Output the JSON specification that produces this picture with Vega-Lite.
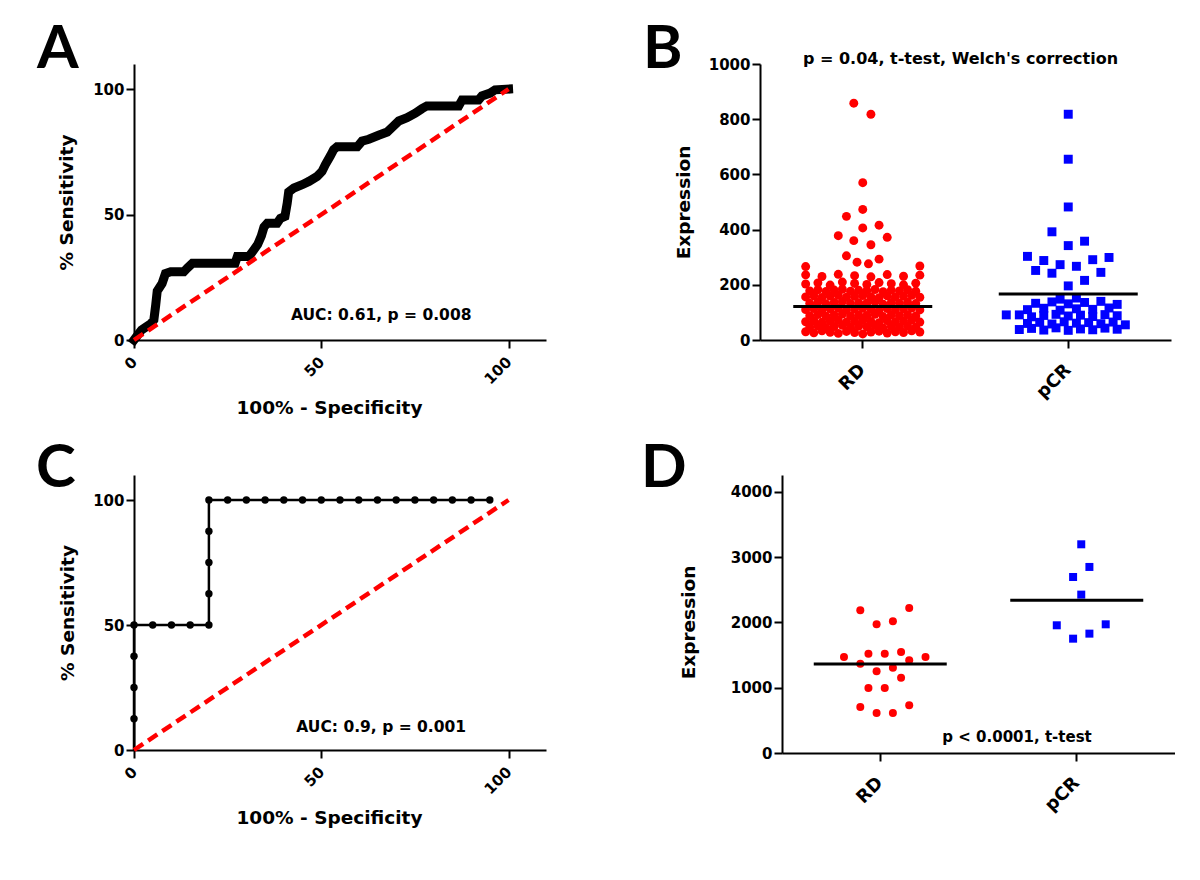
{
  "$schema": "https://vega.github.io/schema/vega-lite/v6.json",
  "background": "white",
  "autosize": {"type": "pad"},
  "padding": {"left": 36, "top": 20, "right": 0, "bottom": 0},
  "config": {
    "view": {"stroke": null},
    "font": "DejaVu Sans",
    "axis": {"domainColor": "#000", "domainWidth": 2, "tickColor": "#000", "tickWidth": 2, "tickSize": 8, "grid": false,
      "labelFont": "DejaVu Sans", "labelFontWeight": "bold", "labelFontSize": 15, "labelColor": "#000", "labelPadding": 2,
      "titleFont": "DejaVu Sans", "titleFontWeight": "bold", "titleFontSize": 18.5, "titleColor": "#000"},
    "axisX": {"labelAngle": -45, "labelAlign": "right", "labelBaseline": "middle", "labelPadding": 11, "titlePadding": 12, "labelFlush": false, "labelOverlap": false},
    "title": {"font": "Lato", "fontSize": 60, "fontWeight": "bold", "color": "#000", "anchor": "start", "frame": "group", "baseline": "alphabetic"}
  },
  "datasets": {
    "rocA": [
      {"fpr":0,"tpr":0},{"fpr":1,"tpr":2},{"fpr":2,"tpr":4},{"fpr":3,"tpr":5},{"fpr":4.5,"tpr":6.5},{"fpr":5.3,"tpr":8},{"fpr":5.8,"tpr":14},{"fpr":6.2,"tpr":19.5},{"fpr":7.5,"tpr":22.5},{"fpr":8.4,"tpr":26.5},{"fpr":9.8,"tpr":27.2},{"fpr":13.3,"tpr":27.2},{"fpr":14.2,"tpr":28.6},{"fpr":15.6,"tpr":30.6},{"fpr":27,"tpr":30.6},{"fpr":27.6,"tpr":33.3},{"fpr":30.7,"tpr":33.3},{"fpr":31.8,"tpr":35.5},{"fpr":33,"tpr":38},{"fpr":34,"tpr":41.5},{"fpr":34.7,"tpr":45},{"fpr":35.6,"tpr":46.5},{"fpr":38.2,"tpr":46.5},{"fpr":39.1,"tpr":48.5},{"fpr":40.3,"tpr":49.3},{"fpr":40.9,"tpr":54.5},{"fpr":41.3,"tpr":59},{"fpr":42.7,"tpr":60.6},{"fpr":44.9,"tpr":61.9},{"fpr":46.7,"tpr":63.2},{"fpr":48.9,"tpr":65.2},{"fpr":50.2,"tpr":67.2},{"fpr":51.1,"tpr":69.9},{"fpr":52.4,"tpr":73.3},{"fpr":53.3,"tpr":75.9},{"fpr":54.2,"tpr":77},{"fpr":59.6,"tpr":77},{"fpr":60.9,"tpr":79.3},{"fpr":62.7,"tpr":80},{"fpr":65.3,"tpr":81.6},{"fpr":67.6,"tpr":82.9},{"fpr":69.3,"tpr":85.3},{"fpr":70.7,"tpr":87.3},{"fpr":72.9,"tpr":88.6},{"fpr":75.1,"tpr":90.4},{"fpr":76.9,"tpr":92.2},{"fpr":78.2,"tpr":93.3},{"fpr":86.7,"tpr":93.3},{"fpr":87.6,"tpr":95.7},{"fpr":92,"tpr":95.7},{"fpr":92.9,"tpr":97.3},{"fpr":95.1,"tpr":98.4},{"fpr":96.4,"tpr":99.7},{"fpr":100,"tpr":100}
    ],
    "rocC": [
      {"fpr":0,"tpr":0},{"fpr":0,"tpr":12.5},{"fpr":0,"tpr":25},{"fpr":0,"tpr":37.5},{"fpr":0,"tpr":50},{"fpr":5,"tpr":50},{"fpr":10,"tpr":50},{"fpr":15,"tpr":50},{"fpr":20,"tpr":50},{"fpr":20,"tpr":62.5},{"fpr":20,"tpr":75},{"fpr":20,"tpr":87.5},{"fpr":20,"tpr":100},{"fpr":25,"tpr":100},{"fpr":30,"tpr":100},{"fpr":35,"tpr":100},{"fpr":40,"tpr":100},{"fpr":45,"tpr":100},{"fpr":50,"tpr":100},{"fpr":55,"tpr":100},{"fpr":60,"tpr":100},{"fpr":65,"tpr":100},{"fpr":70,"tpr":100},{"fpr":75,"tpr":100},{"fpr":80,"tpr":100},{"fpr":85,"tpr":100},{"fpr":90,"tpr":100},{"fpr":95,"tpr":100}
    ],
    "diag": [{"fpr":0,"tpr":0},{"fpr":100,"tpr":100}],
    "exprB": [
      {"g":"RD","v":30,"s":-7},{"g":"RD","v":26,"s":-6},{"g":"RD","v":33,"s":-5},{"g":"RD","v":28,"s":-4},{"g":"RD","v":24,"s":-3},{"g":"RD","v":31,"s":-2},{"g":"RD","v":27,"s":-1},{"g":"RD","v":22,"s":0},{"g":"RD","v":29,"s":1},{"g":"RD","v":32,"s":2},{"g":"RD","v":25,"s":3},{"g":"RD","v":30,"s":4},{"g":"RD","v":27,"s":5},{"g":"RD","v":33,"s":6},{"g":"RD","v":29,"s":7},
      {"g":"RD","v":47,"s":-6.5},{"g":"RD","v":51,"s":-5.5},{"g":"RD","v":45,"s":-4.5},{"g":"RD","v":49,"s":-3.5},{"g":"RD","v":53,"s":-2.5},{"g":"RD","v":46,"s":-1.5},{"g":"RD","v":50,"s":-0.5},{"g":"RD","v":48,"s":0.5},{"g":"RD","v":52,"s":1.5},{"g":"RD","v":44,"s":2.5},{"g":"RD","v":49,"s":3.5},{"g":"RD","v":47,"s":4.5},{"g":"RD","v":51,"s":5.5},{"g":"RD","v":46,"s":6.5},
      {"g":"RD","v":66,"s":-7},{"g":"RD","v":70,"s":-6},{"g":"RD","v":64,"s":-5},{"g":"RD","v":69,"s":-4},{"g":"RD","v":72,"s":-3},{"g":"RD","v":65,"s":-2},{"g":"RD","v":68,"s":-1},{"g":"RD","v":71,"s":0},{"g":"RD","v":67,"s":1},{"g":"RD","v":63,"s":2},{"g":"RD","v":70,"s":3},{"g":"RD","v":66,"s":4},{"g":"RD","v":69,"s":5},{"g":"RD","v":72,"s":6},{"g":"RD","v":65,"s":7},
      {"g":"RD","v":88,"s":-6.5},{"g":"RD","v":92,"s":-5.5},{"g":"RD","v":86,"s":-4.5},{"g":"RD","v":91,"s":-3.5},{"g":"RD","v":94,"s":-2.5},{"g":"RD","v":87,"s":-1.5},{"g":"RD","v":90,"s":-0.5},{"g":"RD","v":89,"s":0.5},{"g":"RD","v":93,"s":1.5},{"g":"RD","v":85,"s":2.5},{"g":"RD","v":91,"s":3.5},{"g":"RD","v":88,"s":4.5},{"g":"RD","v":92,"s":5.5},{"g":"RD","v":87,"s":6.5},
      {"g":"RD","v":110,"s":-7},{"g":"RD","v":114,"s":-6},{"g":"RD","v":108,"s":-5},{"g":"RD","v":113,"s":-4},{"g":"RD","v":116,"s":-3},{"g":"RD","v":109,"s":-2},{"g":"RD","v":112,"s":-1},{"g":"RD","v":115,"s":0},{"g":"RD","v":111,"s":1},{"g":"RD","v":107,"s":2},{"g":"RD","v":114,"s":3},{"g":"RD","v":110,"s":4},{"g":"RD","v":113,"s":5},{"g":"RD","v":116,"s":6},{"g":"RD","v":109,"s":7},
      {"g":"RD","v":133,"s":-6.5},{"g":"RD","v":137,"s":-5.5},{"g":"RD","v":131,"s":-4.5},{"g":"RD","v":136,"s":-3.5},{"g":"RD","v":139,"s":-2.5},{"g":"RD","v":132,"s":-1.5},{"g":"RD","v":135,"s":-0.5},{"g":"RD","v":134,"s":0.5},{"g":"RD","v":138,"s":1.5},{"g":"RD","v":130,"s":2.5},{"g":"RD","v":136,"s":3.5},{"g":"RD","v":133,"s":4.5},{"g":"RD","v":137,"s":5.5},{"g":"RD","v":132,"s":6.5},
      {"g":"RD","v":156,"s":-7},{"g":"RD","v":160,"s":-6},{"g":"RD","v":154,"s":-5},{"g":"RD","v":159,"s":-4},{"g":"RD","v":162,"s":-3},{"g":"RD","v":155,"s":-2},{"g":"RD","v":158,"s":-1},{"g":"RD","v":161,"s":0},{"g":"RD","v":157,"s":1},{"g":"RD","v":153,"s":2},{"g":"RD","v":160,"s":3},{"g":"RD","v":156,"s":4},{"g":"RD","v":159,"s":5},{"g":"RD","v":162,"s":6},{"g":"RD","v":155,"s":7},
      {"g":"RD","v":178,"s":-6.5},{"g":"RD","v":182,"s":-5.5},{"g":"RD","v":176,"s":-4.5},{"g":"RD","v":181,"s":-3.5},{"g":"RD","v":184,"s":-2.5},{"g":"RD","v":177,"s":-1.5},{"g":"RD","v":180,"s":-0.5},{"g":"RD","v":179,"s":0.5},{"g":"RD","v":183,"s":1.5},{"g":"RD","v":175,"s":2.5},{"g":"RD","v":181,"s":3.5},{"g":"RD","v":178,"s":4.5},{"g":"RD","v":182,"s":5.5},{"g":"RD","v":177,"s":6.5},
      {"g":"RD","v":203,"s":-7},{"g":"RD","v":207,"s":-5.5},{"g":"RD","v":199,"s":-4},{"g":"RD","v":210,"s":-2.5},{"g":"RD","v":205,"s":-1},{"g":"RD","v":201,"s":0.5},{"g":"RD","v":208,"s":2},{"g":"RD","v":204,"s":3.5},{"g":"RD","v":200,"s":5},{"g":"RD","v":206,"s":6.5},
      {"g":"RD","v":236,"s":-7},{"g":"RD","v":230,"s":-5},{"g":"RD","v":238,"s":-3},{"g":"RD","v":233,"s":-1},{"g":"RD","v":229,"s":1},{"g":"RD","v":237,"s":3},{"g":"RD","v":231,"s":5},{"g":"RD","v":235,"s":7},
      {"g":"RD","v":266,"s":-7},{"g":"RD","v":268,"s":7},{"g":"RD","v":282,"s":-0.7},{"g":"RD","v":276,"s":0.7},
      {"g":"RD","v":858,"s":-1.1},{"g":"RD","v":818,"s":1},{"g":"RD","v":570,"s":0},{"g":"RD","v":473,"s":0},{"g":"RD","v":448,"s":-2},{"g":"RD","v":416,"s":2},{"g":"RD","v":406,"s":0},{"g":"RD","v":378,"s":-3},{"g":"RD","v":372,"s":3},{"g":"RD","v":360,"s":-1.1},{"g":"RD","v":345,"s":1},{"g":"RD","v":305,"s":-2},{"g":"RD","v":293,"s":2},
      {"g":"pCR","v":818,"s":0},{"g":"pCR","v":655,"s":0},{"g":"pCR","v":482,"s":0},{"g":"pCR","v":392,"s":-2},{"g":"pCR","v":358,"s":2},{"g":"pCR","v":342,"s":0},{"g":"pCR","v":303,"s":-5},{"g":"pCR","v":299,"s":5},{"g":"pCR","v":288,"s":-3},{"g":"pCR","v":291,"s":3},{"g":"pCR","v":273,"s":-1},{"g":"pCR","v":267,"s":1},{"g":"pCR","v":252,"s":-4},{"g":"pCR","v":245,"s":4},{"g":"pCR","v":242,"s":-2},{"g":"pCR","v":216,"s":2},{"g":"pCR","v":196,"s":0},
      {"g":"pCR","v":38,"s":-6},{"g":"pCR","v":42,"s":-4.5},{"g":"pCR","v":36,"s":-3},{"g":"pCR","v":44,"s":-1.5},{"g":"pCR","v":35,"s":0},{"g":"pCR","v":40,"s":1.5},{"g":"pCR","v":37,"s":3},{"g":"pCR","v":43,"s":4.5},{"g":"pCR","v":39,"s":6},{"g":"pCR","v":55,"s":7},{"g":"pCR","v":91,"s":-7.6},
      {"g":"pCR","v":60,"s":-5},{"g":"pCR","v":64,"s":-3.5},{"g":"pCR","v":58,"s":-2},{"g":"pCR","v":66,"s":-0.5},{"g":"pCR","v":61,"s":1},{"g":"pCR","v":63,"s":2.5},{"g":"pCR","v":59,"s":4},{"g":"pCR","v":65,"s":5.5},
      {"g":"pCR","v":91,"s":-6},{"g":"pCR","v":84,"s":-4.5},{"g":"pCR","v":89,"s":-3},{"g":"pCR","v":93,"s":-1.5},{"g":"pCR","v":87,"s":0},{"g":"pCR","v":90,"s":1.5},{"g":"pCR","v":85,"s":3},{"g":"pCR","v":92,"s":4.5},{"g":"pCR","v":88,"s":6},
      {"g":"pCR","v":110,"s":-5},{"g":"pCR","v":115,"s":-3},{"g":"pCR","v":108,"s":-1},{"g":"pCR","v":113,"s":1},{"g":"pCR","v":111,"s":3},{"g":"pCR","v":116,"s":5},
      {"g":"pCR","v":133,"s":-4},{"g":"pCR","v":138,"s":-2},{"g":"pCR","v":131,"s":0},{"g":"pCR","v":136,"s":2},{"g":"pCR","v":140,"s":4},{"g":"pCR","v":129,"s":6},
      {"g":"pCR","v":148,"s":-1},{"g":"pCR","v":152,"s":1}
    ],
    "meanB": [{"g":"RD","m":121},{"g":"pCR","m":167}],
    "exprD": [
      {"g":"RD","v":2186,"s":-3},{"g":"RD","v":2222,"s":3},{"g":"RD","v":1972,"s":-1},{"g":"RD","v":2018,"s":1},{"g":"RD","v":1471,"s":-5},{"g":"RD","v":1522,"s":-2},{"g":"RD","v":1522,"s":0},{"g":"RD","v":1548,"s":2},{"g":"RD","v":1471,"s":5},{"g":"RD","v":1369,"s":-3},{"g":"RD","v":1420,"s":3},{"g":"RD","v":1252,"s":-1},{"g":"RD","v":1308,"s":1},{"g":"RD","v":1155,"s":2},{"g":"RD","v":996,"s":-2},{"g":"RD","v":996,"s":0},{"g":"RD","v":705,"s":-3},{"g":"RD","v":731,"s":3},{"g":"RD","v":613,"s":-1},{"g":"RD","v":613,"s":1},
      {"g":"pCR","v":3198,"s":0},{"g":"pCR","v":2851,"s":1},{"g":"pCR","v":2697,"s":-1},{"g":"pCR","v":2427,"s":0},{"g":"pCR","v":1957,"s":-3},{"g":"pCR","v":1972,"s":3},{"g":"pCR","v":1829,"s":1},{"g":"pCR","v":1752,"s":-1}
    ],
    "meanD": [{"g":"RD","m":1364},{"g":"pCR","m":2340}]
  },
  "spacing": 21,
  "vconcat": [
    {
      "bounds": "flush",
      "spacing": 214,
      "hconcat": [
        {
          "width": 412, "height": 276,
          "title": {"text": "A", "dx": -97, "offset": -17},
          "layer": [
            {
              "data": {"name": "rocA"},
              "mark": {"type": "line", "color": "#000", "strokeWidth": 9, "strokeCap": "square"},
              "encoding": {
                "x": {"field": "fpr", "type": "quantitative", "scale": {"domain": [0, 110], "nice": false}, "axis": {"values": [0, 50, 100], "title": "100% - Specificity", "titleX": 195}},
                "y": {"field": "tpr", "type": "quantitative", "scale": {"domain": [0, 110], "nice": false}, "axis": {"values": [0, 50, 100], "title": "% Sensitivity", "titlePadding": 16}},
                "order": [{"field": "fpr", "type": "quantitative"}, {"field": "tpr", "type": "quantitative"}]
              }
            },
            {
              "data": {"name": "diag"},
              "mark": {"type": "line", "color": "#ff0000", "strokeWidth": 4.5, "strokeDash": [11, 6]},
              "encoding": {"x": {"field": "fpr", "type": "quantitative"}, "y": {"field": "tpr", "type": "quantitative"}}
            },
            {
              "data": {"values": [{"label": "AUC: 0.61, p = 0.008"}]},
              "mark": {"type": "text", "font": "DejaVu Sans", "fontWeight": "bold", "fontSize": 15.5, "color": "#000", "align": "center", "baseline": "alphabetic"},
              "encoding": {"text": {"field": "label"}, "x": {"datum": 66}, "y": {"datum": 8}}
            }
          ]
        },
        {
          "width": 411, "height": 276,
          "title": {"text": "B", "dx": -117, "offset": -30},
          "layer": [
            {
              "data": {"name": "exprB"},
              "mark": {"type": "point", "filled": true, "opacity": 1, "size": 80},
              "encoding": {
                "x": {"field": "g", "type": "nominal", "sort": ["RD", "pCR"], "scale": {"type": "band", "domain": ["RD", "pCR"], "paddingInner": 0, "paddingOuter": 0}, "axis": {"title": null, "labelFontSize": 18, "labelPadding": 19}},
                "xOffset": {"field": "s", "type": "quantitative", "scale": {"domain": [-12.5, 12.5], "nice": false, "zero": false}},
                "y": {"field": "v", "type": "quantitative", "scale": {"domain": [0, 1000], "nice": false}, "axis": {"values": [0, 200, 400, 600, 800, 1000], "format": "d", "title": "Expression", "titlePadding": 15}},
                "color": {"field": "g", "type": "nominal", "scale": {"domain": ["RD", "pCR"], "range": ["#ff0000", "#0000ff"]}, "legend": null},
                "shape": {"field": "g", "type": "nominal", "scale": {"domain": ["RD", "pCR"], "range": ["circle", "square"]}, "legend": null}
              }
            },
            {
              "data": {"name": "meanB"},
              "mark": {"type": "tick", "color": "#000", "size": 139, "thickness": 3, "opacity": 1},
              "encoding": {"x": {"field": "g", "type": "nominal"}, "y": {"field": "m", "type": "quantitative"}}
            },
            {
              "data": {"values": [{"label": "p = 0.04, t-test, Welch's correction"}]},
              "mark": {"type": "text", "font": "DejaVu Sans", "fontWeight": "bold", "fontSize": 16, "color": "#000", "align": "center", "baseline": "alphabetic", "dx": -5},
              "encoding": {"text": {"field": "label"}, "y": {"datum": 1000}}
            }
          ]
        }
      ]
    },
    {
      "bounds": "flush",
      "spacing": 236,
      "hconcat": [
        {
          "width": 412, "height": 275,
          "title": {"text": "C", "dx": -98, "offset": -25},
          "layer": [
            {
              "data": {"name": "rocC"},
              "mark": {"type": "line", "color": "#000", "strokeWidth": 2.5},
              "encoding": {
                "x": {"field": "fpr", "type": "quantitative", "scale": {"domain": [0, 110], "nice": false}, "axis": {"values": [0, 50, 100], "title": "100% - Specificity", "titleX": 195}},
                "y": {"field": "tpr", "type": "quantitative", "scale": {"domain": [0, 110], "nice": false}, "axis": {"values": [0, 50, 100], "title": "% Sensitivity", "titlePadding": 15}},
                "order": [{"field": "fpr", "type": "quantitative"}, {"field": "tpr", "type": "quantitative"}]
              }
            },
            {
              "data": {"name": "rocC"},
              "transform": [{"filter": "datum.tpr > 0"}],
              "mark": {"type": "circle", "color": "#000", "size": 55, "opacity": 1},
              "encoding": {"x": {"field": "fpr", "type": "quantitative"}, "y": {"field": "tpr", "type": "quantitative"}}
            },
            {
              "data": {"name": "diag"},
              "mark": {"type": "line", "color": "#ff0000", "strokeWidth": 4.5, "strokeDash": [11, 6]},
              "encoding": {"x": {"field": "fpr", "type": "quantitative"}, "y": {"field": "tpr", "type": "quantitative"}}
            },
            {
              "data": {"values": [{"label": "AUC: 0.9, p = 0.001"}]},
              "mark": {"type": "text", "font": "DejaVu Sans", "fontWeight": "bold", "fontSize": 15.5, "color": "#000", "align": "center", "baseline": "alphabetic"},
              "encoding": {"text": {"field": "label"}, "x": {"datum": 66}, "y": {"datum": 7.3}}
            }
          ]
        },
        {
          "width": 393, "height": 278,
          "title": {"text": "D", "dx": -141, "offset": -25},
          "layer": [
            {
              "data": {"name": "exprD"},
              "mark": {"type": "point", "filled": true, "opacity": 1, "size": 64},
              "encoding": {
                "x": {"field": "g", "type": "nominal", "sort": ["RD", "pCR"], "scale": {"type": "band", "domain": ["RD", "pCR"], "paddingInner": 0, "paddingOuter": 0}, "axis": {"title": null, "labelFontSize": 18, "labelPadding": 19}},
                "xOffset": {"field": "s", "type": "quantitative", "scale": {"domain": [-12.6, 12.6], "nice": false, "zero": false}},
                "y": {"field": "v", "type": "quantitative", "scale": {"domain": [0, 4260], "nice": false}, "axis": {"values": [0, 1000, 2000, 3000, 4000], "format": "d", "title": "Expression", "titlePadding": 32, "titleY": 147}},
                "color": {"field": "g", "type": "nominal", "scale": {"domain": ["RD", "pCR"], "range": ["#ff0000", "#0000ff"]}, "legend": null},
                "shape": {"field": "g", "type": "nominal", "scale": {"domain": ["RD", "pCR"], "range": ["circle", "square"]}, "legend": null}
              }
            },
            {
              "data": {"name": "meanD"},
              "mark": {"type": "tick", "color": "#000", "size": 133, "thickness": 3, "opacity": 1},
              "encoding": {"x": {"field": "g", "type": "nominal"}, "y": {"field": "m", "type": "quantitative"}}
            },
            {
              "data": {"values": [{"label": "p < 0.0001, t-test"}]},
              "mark": {"type": "text", "font": "DejaVu Sans", "fontWeight": "bold", "fontSize": 15, "color": "#000", "align": "right", "baseline": "alphabetic", "dx": 15},
              "encoding": {"text": {"field": "label"}, "x": {"datum": "pCR"}, "y": {"datum": 170}}
            }
          ]
        }
      ]
    }
  ]
}
